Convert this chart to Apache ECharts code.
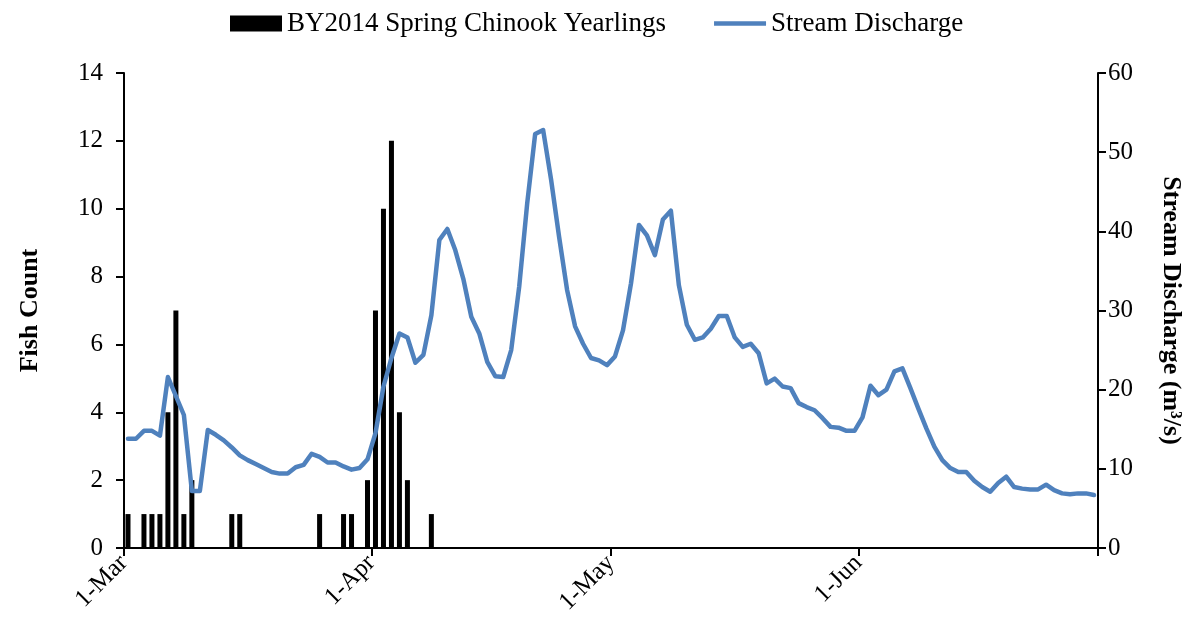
<!DOCTYPE html>
<html>
<head>
<meta charset="utf-8">
<script src="https://cdn.jsdelivr.net/npm/echarts@6/dist/echarts.min.js"></script>
<style>
html,body{margin:0;padding:0;background:#fff;}
#chart{width:1183px;height:627px;}
</style>
</head>
<body>
<div id="chart"></div>
<script>
// Month names and day counts for the date categories (1-Mar .. 30-Jun)
var months = ['Mar', 'Apr', 'May', 'Jun'];
var monthDays = [31, 30, 31, 30];
var monthTickLabels = ['1-Mar', '1-Apr', '1-May', '1-Jun'];

// Fish count (only days with catches)
var fishDays = ['1-Mar','3-Mar','4-Mar','5-Mar','6-Mar','7-Mar','8-Mar','9-Mar','14-Mar','15-Mar','25-Mar','28-Mar','29-Mar','31-Mar','1-Apr','2-Apr','3-Apr','4-Apr','5-Apr','8-Apr'];
var fishCounts = [1,1,1,1,4,7,1,2,1,1,1,1,1,2,7,10,12,4,2,1];

// Daily stream discharge (m3/s), 1-Mar .. 30-Jun
var discharge = [
  13.8,13.8,14.8,14.8,14.2,21.6,19.2,16.8,7.2,7.2,
  14.9,14.3,13.6,12.7,11.7,11.1,10.6,10.1,9.6,9.4,
  9.4,10.2,10.5,11.9,11.5,10.8,10.8,10.3,9.9,10.1,
  11.2,14.5,20.4,24.0,27.1,26.6,23.4,24.4,29.4,38.9,
  40.3,37.6,34.0,29.2,27.1,23.5,21.7,21.6,25.0,33.0,
  43.5,52.3,52.8,46.5,39.3,32.6,28.0,25.8,24.0,23.7,
  23.1,24.2,27.5,33.4,40.8,39.5,37.0,41.5,42.6,33.2,
  28.2,26.3,26.6,27.7,29.3,29.3,26.6,25.4,25.8,24.6,
  20.8,21.4,20.4,20.2,18.3,17.8,17.4,16.4,15.3,15.2,
  14.8,14.8,16.5,20.5,19.3,20.0,22.3,22.7,20.2,17.6,
  15.1,12.8,11.1,10.1,9.6,9.6,8.5,7.7,7.1,8.2,
  9.0,7.7,7.5,7.4,7.4,8.0,7.3,6.9,6.8,6.9,
  6.9,6.7
];

var categories = [];
for (var m = 0; m < months.length; m++) {
  for (var d = 1; d <= monthDays[m]; d++) categories.push(d + '-' + months[m]);
}
var fishData = categories.map(function (c) {
  var i = fishDays.indexOf(c);
  return i >= 0 ? fishCounts[i] : null;
});
function isMonthStart(idx) { return monthTickLabels.indexOf(categories[idx]) >= 0; }

var FONT = 'Liberation Serif';
var chart = echarts.init(document.getElementById('chart'), null, {renderer: 'canvas'});
chart.setOption({
  animation: false,
  backgroundColor: '#ffffff',
  textStyle: {fontFamily: FONT, color: '#000'},
  legend: {
    top: 5,
    left: 225,
    itemGap: 48,
    itemWidth: 52,
    itemHeight: 16,
    textStyle: {fontFamily: FONT, fontSize: 27, color: '#000'},
    data: [
      {name: 'BY2014 Spring Chinook Yearlings', icon: 'rect', itemStyle: {color: '#000'}},
      {name: 'Stream Discharge', icon: 'path://M0,0 L56,0 L56,5 L0,5 Z', itemStyle: {color: '#4F81BD'}}
    ]
  },
  grid: {left: 124, right: 85, top: 73, bottom: 79, containLabel: false, outerBoundsMode: 'none'},
  xAxis: {
    type: 'category',
    data: categories,
    boundaryGap: true,
    axisLine: {lineStyle: {color: '#000', width: 2}},
    axisTick: {show: true, length: 8, alignWithLabel: false, interval: function (i) { return isMonthStart(i); }, lineStyle: {color: '#000', width: 2}},
    axisLabel: {
      interval: function (i) { return isMonthStart(i); },
      rotate: 45, margin: 7, padding: [0, 6, 0, 0], fontFamily: FONT, fontSize: 25, color: '#000'
    },
    splitLine: {show: false}
  },
  yAxis: [
    {
      type: 'value', min: 0, max: 14, interval: 2, position: 'left',
      name: 'Fish Count', nameLocation: 'middle', nameGap: 81, nameRotate: 90,
      nameTextStyle: {fontFamily: FONT, fontSize: 26, fontWeight: 'bold', color: '#000'},
      axisLine: {show: true, lineStyle: {color: '#000', width: 2}},
      axisTick: {show: true, length: 8, inside: false, lineStyle: {color: '#000', width: 2}},
      axisLabel: {margin: 21, fontFamily: FONT, fontSize: 25, color: '#000'},
      splitLine: {show: false}
    },
    {
      type: 'value', min: 0, max: 60, interval: 10, position: 'right',
      name: 'Stream Discharge (m³/s)', nameLocation: 'middle', nameGap: 60, nameRotate: -90,
      nameTextStyle: {fontFamily: FONT, fontSize: 26, fontWeight: 'bold', color: '#000'},
      axisLine: {show: true, lineStyle: {color: '#000', width: 2}},
      axisTick: {show: true, length: 8, inside: false, lineStyle: {color: '#000', width: 2}},
      axisLabel: {margin: 10, fontFamily: FONT, fontSize: 25, color: '#000'},
      splitLine: {show: false}
    }
  ],
  series: [
    {
      name: 'BY2014 Spring Chinook Yearlings',
      type: 'bar', yAxisIndex: 0,
      data: fishData,
      barWidth: 5,
      itemStyle: {color: '#000'}
    },
    {
      name: 'Stream Discharge',
      type: 'line', yAxisIndex: 1,
      data: discharge,
      symbol: 'none',
      lineStyle: {color: '#4F81BD', width: 4.5, join: 'round', cap: 'round'},
      itemStyle: {color: '#4F81BD'}
    }
  ]
});
</script>
</body>
</html>
